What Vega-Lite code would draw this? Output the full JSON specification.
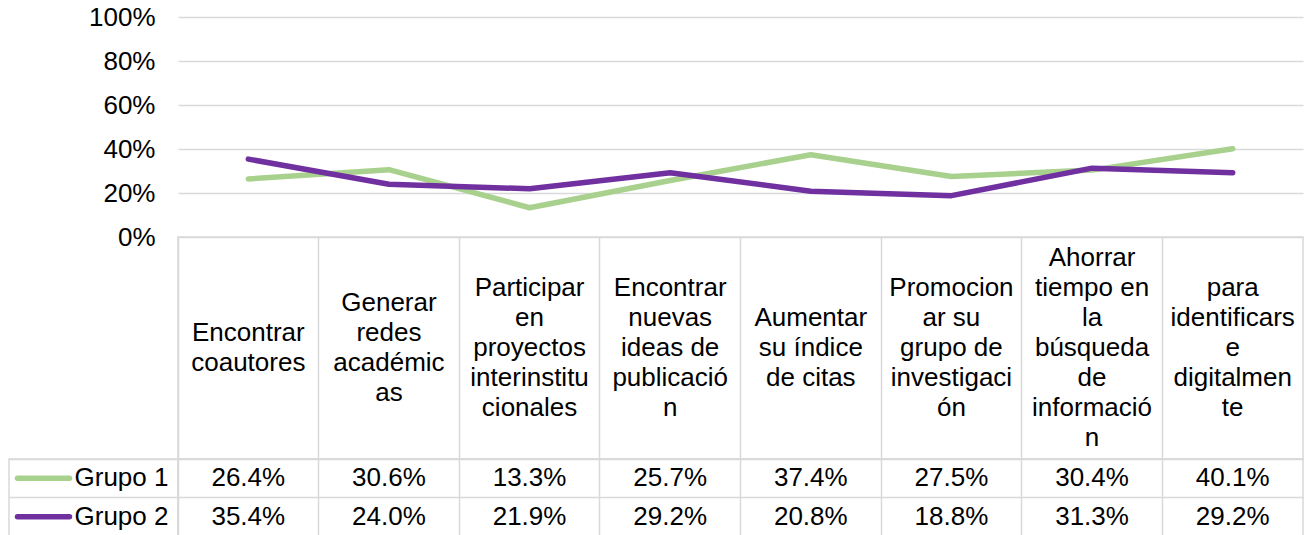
{
  "$schema": "https://vega.github.io/schema/vega-lite/v6.json",
  "padding": {"left": 5, "top": 4, "right": 0, "bottom": 0},
  "background": "white",
  "config": {
    "font": "Liberation Sans",
    "view": {"stroke": null},
    "concat": {"spacing": 0},
    "axis": {"gridColor": "#D9D9D9", "gridWidth": 1.5, "domain": false, "ticks": false, "title": null, "labelColor": "#000000", "labelFont": "Liberation Sans", "labelFontSize": 26},
    "text": {"fontSize": 26, "color": "#000000", "font": "Liberation Sans"}
  },
  "datasets": {
    "vals": [
      {"cat": "Encontrar coautores", "grupo": "Grupo 1", "value": 0.264},
      {"cat": "Generar redes académicas", "grupo": "Grupo 1", "value": 0.306},
      {"cat": "Participar en proyectos interinstitucionales", "grupo": "Grupo 1", "value": 0.133},
      {"cat": "Encontrar nuevas ideas de publicación", "grupo": "Grupo 1", "value": 0.257},
      {"cat": "Aumentar su índice de citas", "grupo": "Grupo 1", "value": 0.374},
      {"cat": "Promocionar su grupo de investigación", "grupo": "Grupo 1", "value": 0.275},
      {"cat": "Ahorrar tiempo en la búsqueda de información", "grupo": "Grupo 1", "value": 0.304},
      {"cat": "para identificarse digitalmente", "grupo": "Grupo 1", "value": 0.401},
      {"cat": "Encontrar coautores", "grupo": "Grupo 2", "value": 0.354},
      {"cat": "Generar redes académicas", "grupo": "Grupo 2", "value": 0.240},
      {"cat": "Participar en proyectos interinstitucionales", "grupo": "Grupo 2", "value": 0.219},
      {"cat": "Encontrar nuevas ideas de publicación", "grupo": "Grupo 2", "value": 0.292},
      {"cat": "Aumentar su índice de citas", "grupo": "Grupo 2", "value": 0.208},
      {"cat": "Promocionar su grupo de investigación", "grupo": "Grupo 2", "value": 0.188},
      {"cat": "Ahorrar tiempo en la búsqueda de información", "grupo": "Grupo 2", "value": 0.313},
      {"cat": "para identificarse digitalmente", "grupo": "Grupo 2", "value": 0.292}
    ],
    "cats": [
      {"cat": "Encontrar coautores", "label": "Encontrar\ncoautores", "lines": 2},
      {"cat": "Generar redes académicas", "label": "Generar\nredes\nacadémic\nas", "lines": 4},
      {"cat": "Participar en proyectos interinstitucionales", "label": "Participar\nen\nproyectos\ninterinstitu\ncionales", "lines": 5},
      {"cat": "Encontrar nuevas ideas de publicación", "label": "Encontrar\nnuevas\nideas de\npublicació\nn", "lines": 5},
      {"cat": "Aumentar su índice de citas", "label": "Aumentar\nsu índice\nde citas", "lines": 3},
      {"cat": "Promocionar su grupo de investigación", "label": "Promocion\nar su\ngrupo de\ninvestigaci\nón", "lines": 5},
      {"cat": "Ahorrar tiempo en la búsqueda de información", "label": "Ahorrar\ntiempo en\nla\nbúsqueda\nde\ninformació\nn", "lines": 7},
      {"cat": "para identificarse digitalmente", "label": "para\nidentificars\ne\ndigitalmen\nte", "lines": 5}
    ],
    "grupos": [
      {"grupo": "Grupo 1"},
      {"grupo": "Grupo 2"}
    ]
  },
  "columns": 2,
  "spacing": 0,
  "bounds": "flush",
  "align": "each",
  "concat": [
    {
      "width": 169, "height": 220,
      "data": {"values": [{}]},
      "mark": {"type": "text", "text": ""}
    },
    {
      "width": 1125, "height": 220,
      "data": {"name": "vals"},
      "mark": {"type": "line", "strokeWidth": 5.5, "strokeCap": "round", "strokeJoin": "round"},
      "encoding": {
        "x": {"field": "cat", "type": "nominal", "sort": null, "scale": {"type": "point", "padding": 0.5}, "axis": null},
        "y": {"field": "value", "type": "quantitative", "scale": {"domain": [0, 1]}, "axis": {"values": [0, 0.2, 0.4, 0.6, 0.8, 1], "format": ".0%", "labelPadding": 23, "grid": true}},
        "color": {"field": "grupo", "type": "nominal", "scale": {"domain": ["Grupo 1", "Grupo 2"], "range": ["#A9D18E", "#7030A0"]}, "legend": null}
      }
    },
    {
      "width": 169, "height": 222,
      "data": {"values": [{}]},
      "mark": {"type": "text", "text": ""}
    },
    {
      "width": 1125, "height": 222,
      "data": {"name": "cats"},
      "view": {"stroke": "#D9D9D9", "strokeWidth": 1.5},
      "mark": {"type": "text", "lineBreak": "\n", "lineHeight": 30, "baseline": "middle"},
      "encoding": {
        "x": {"field": "cat", "type": "nominal", "sort": null, "scale": {"type": "band", "paddingInner": 0, "paddingOuter": 0}, "axis": {"labels": false, "grid": true, "bandPosition": 0}},
        "y": {"field": "lines", "type": "quantitative", "scale": {"domain": [-6.4, 8.4]}, "axis": null},
        "text": {"field": "label"}
      }
    },
    {
      "width": 169, "height": 77,
      "data": {"name": "grupos"},
      "view": {"stroke": "#D9D9D9", "strokeWidth": 1.5},
      "encoding": {
        "y": {"field": "grupo", "type": "nominal", "sort": null, "scale": {"type": "band", "paddingInner": 0, "paddingOuter": 0}, "axis": {"labels": false, "grid": true, "bandPosition": 0}}
      },
      "layer": [
        {
          "mark": {"type": "point", "shape": "stroke", "size": 2704, "strokeWidth": 5.5, "strokeCap": "round", "xOffset": -50, "opacity": 1},
          "encoding": {
            "color": {"field": "grupo", "type": "nominal", "scale": {"domain": ["Grupo 1", "Grupo 2"], "range": ["#A9D18E", "#7030A0"]}, "legend": null}
          }
        },
        {
          "mark": {"type": "text", "align": "left", "dx": -19},
          "encoding": {"text": {"field": "grupo"}}
        }
      ]
    },
    {
      "width": 1125, "height": 77,
      "data": {"name": "vals"},
      "view": {"stroke": "#D9D9D9", "strokeWidth": 1.5},
      "mark": {"type": "text"},
      "encoding": {
        "x": {"field": "cat", "type": "nominal", "sort": null, "scale": {"type": "band", "paddingInner": 0, "paddingOuter": 0}, "axis": {"labels": false, "grid": true, "bandPosition": 0}},
        "y": {"field": "grupo", "type": "nominal", "sort": null, "scale": {"type": "band", "paddingInner": 0, "paddingOuter": 0}, "axis": {"labels": false, "grid": true, "bandPosition": 0}},
        "text": {"field": "value", "type": "quantitative", "format": ".1%"}
      }
    }
  ]
}
